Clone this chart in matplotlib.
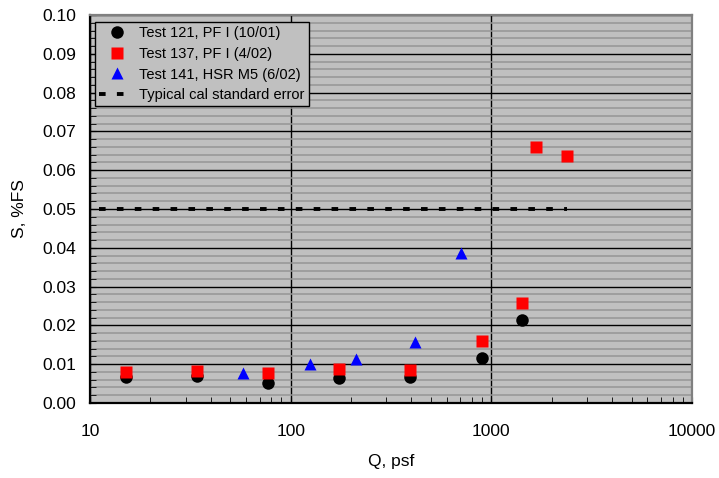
import matplotlib
matplotlib.use("Agg")
import matplotlib.pyplot as plt
from matplotlib.ticker import LogLocator, MultipleLocator, FixedFormatter, FixedLocator

plt.rcParams['font.family'] = ['Liberation Sans', 'DejaVu Sans']

# Test 121, PF I (10/01)
q121 = [15.1, 34, 77, 175, 395, 900, 1415]
s121 = [0.0066, 0.0070, 0.0052, 0.0064, 0.0067, 0.0115, 0.0215]

# Test 137, PF I (4/02)
q137 = [15.1, 34, 77, 175, 395, 900, 1415, 1675, 2390]
s137 = [0.0080, 0.0083, 0.0077, 0.0088, 0.0085, 0.0159, 0.0258, 0.0659, 0.0636]

# Test 141, HSR M5 (6/02)
q141 = [58, 125, 211, 417, 706]
s141 = [0.0078, 0.0100, 0.0113, 0.0157, 0.0387]

# typical cal standard error
cal_q = [11.1, 2390]
cal_s = [0.05, 0.05]

xticks = [10, 100, 1000, 10000]
xtick_labels = ["10", "100", "1000", "10000"]

fig = plt.figure(figsize=(7.19, 4.78), dpi=100)
ax = fig.add_axes([90 / 719, (478 - 403) / 478, (692 - 90) / 719, (403 - 15) / 478])
ax.set_facecolor('#C0C0C0')

ax.set_xscale('log')
ax.set_xlim(10, 10000)
ax.set_ylim(0, 0.10)

# grid
ax.yaxis.set_major_locator(MultipleLocator(0.01))
ax.yaxis.set_minor_locator(MultipleLocator(0.002))
ax.xaxis.set_major_locator(FixedLocator(xticks))
ax.xaxis.set_major_formatter(FixedFormatter(xtick_labels))
ax.xaxis.set_minor_locator(LogLocator(base=10, subs=range(2, 10)))
ax.xaxis.set_minor_formatter(FixedFormatter([]))
ax.grid(which='minor', axis='y', color='#969696', lw=1.1, zorder=0)
ax.grid(which='major', axis='both', color='black', lw=1.0, zorder=0)
ax.set_axisbelow(True)

ax.plot(q121, s121, 'o', color='black', ms=9, mec='none', label="Test 121, PF I (10/01)", zorder=3)
ax.plot(q137, s137, 's', color='red', ms=8, mec='none', label="Test 137, PF I (4/02)", zorder=4)
ax.plot(q141, s141, '^', color='blue', ms=9, mec='none', label="Test 141, HSR M5 (6/02)", zorder=4)
ax.plot(cal_q, cal_s, color='black', lw=2.8, dashes=(1.7, 2.9), dash_capstyle='butt',
        label="Typical cal standard error", zorder=3)

for side in ['left', 'bottom']:
    ax.spines[side].set_color('black')
    ax.spines[side].set_linewidth(1.6)
for side in ['top', 'right']:
    ax.spines[side].set_color('#808080')
    ax.spines[side].set_linewidth(1.6)

ax.tick_params(axis='both', which='both', direction='in', color='black')
ax.tick_params(axis='both', which='major', length=4, labelsize=12.5)
ax.tick_params(axis='both', which='minor', length=4)
ax.tick_params(axis='x', which='major', pad=15)
ax.tick_params(axis='y', which='major', pad=10)
ax.yaxis.set_major_formatter(plt.FuncFormatter(lambda v, p: "%.2f" % v))

ax.set_xlabel("Q, psf", fontsize=12.5, labelpad=11)
ax.set_ylabel("S, %FS", fontsize=12.5, labelpad=11)

leg = ax.legend(loc='upper left', bbox_to_anchor=(5 / 602, (403 - 22) / 388), borderaxespad=0,
                fancybox=False, edgecolor='black', facecolor='#C0C0C0', framealpha=1,
                fontsize=10.5, handlelength=2.35, handletextpad=0.4, borderpad=0.3,
                labelspacing=0.45, numpoints=1)
leg.get_frame().set_linewidth(1.0)

fig.savefig("out.png", dpi=100)
